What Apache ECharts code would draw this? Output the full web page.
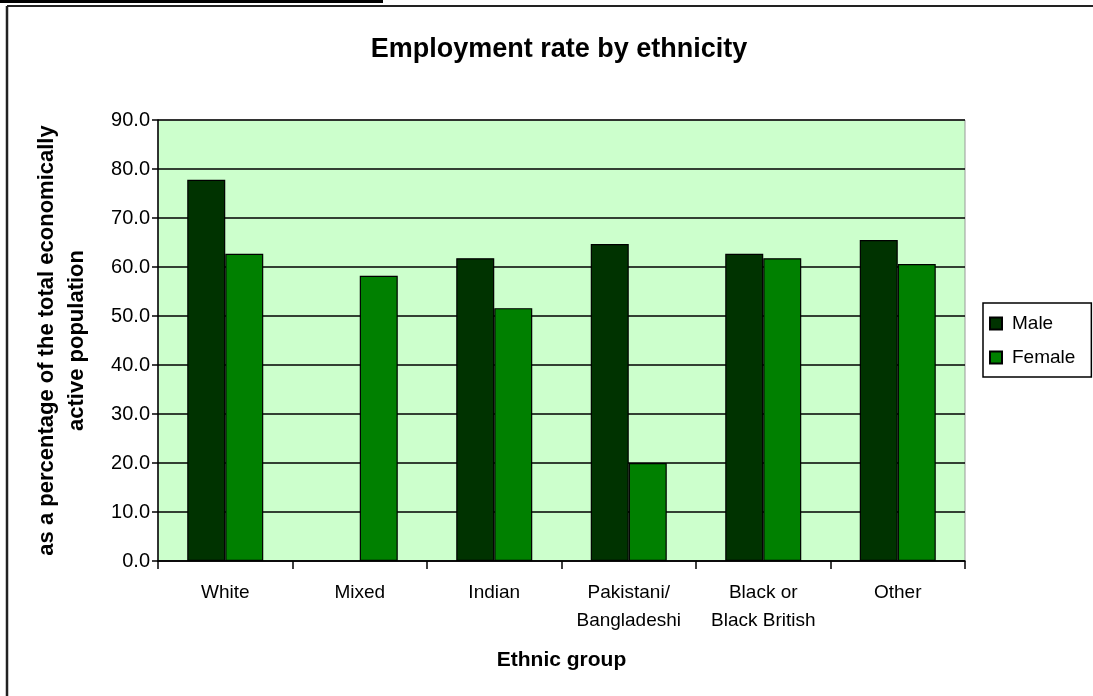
<!DOCTYPE html>
<html>
<head>
<meta charset="utf-8">
<style>
html,body{margin:0;padding:0;background:#fff;}
#chart{width:1093px;height:696px;}
</style>
<script src="https://cdn.jsdelivr.net/npm/echarts@6/dist/echarts.min.js"></script>
</head>
<body>
<div id="chart"></div>
<script>
const categories = ['White', 'Mixed', 'Indian', 'Pakistani/\nBangladeshi', 'Black or\nBlack British', 'Other'];
const maleValues = [77.8, null, 61.8, 64.7, 62.7, 65.5];
const femaleValues = [62.7, 58.2, 51.6, 20.0, 61.8, 60.6];
const seriesNames = ['Male', 'Female'];
const yTickMin = 0, yTickMax = 90, yTickStep = 10;

const font = '"Liberation Sans", Arial, sans-serif';
const chart = echarts.init(document.getElementById('chart'), null, {renderer: 'canvas'});
chart.setOption({
  backgroundColor: '#ffffff',
  animation: false,
  title: {
    text: 'Employment rate by ethnicity',
    left: 554, top: 31, textAlign: 'center',
    textStyle: {fontFamily: font, fontSize: 27, fontWeight: 'bold', color: '#000'}
  },
  legend: {
    orient: 'vertical',
    left: 983, top: 303,
    padding: [11, 16, 10, 6],
    itemGap: 15,
    itemWidth: 12, itemHeight: 12,
    borderColor: '#000', borderWidth: 1.5,
    icon: 'rect',
    textStyle: {fontFamily: font, fontSize: 19, color: '#000', padding: [0, 0, 0, 5]},
    data: seriesNames
  },
  grid: {left: 158, right: 128, top: 120, bottom: 135, show: true, backgroundColor: '#CCFFCC', borderColor: '#999', borderWidth: 1},
  xAxis: {
    type: 'category',
    data: categories,
    name: 'Ethnic group',
    nameLocation: 'middle',
    nameGap: 89,
    nameTextStyle: {fontFamily: font, fontSize: 21, fontWeight: 'bold', color: '#000'},
    axisLine: {lineStyle: {color: '#000', width: 1.5}},
    axisTick: {show: true, length: 8, inside: false, lineStyle: {color: '#000', width: 1.5}},
    axisLabel: {fontFamily: font, fontSize: 19, color: '#000', margin: 18, lineHeight: 28, interval: 0}
  },
  yAxis: {
    type: 'value',
    min: yTickMin, max: yTickMax, interval: yTickStep,
    name: 'as a percentage of the total economically\nactive population',
    nameLocation: 'middle',
    nameGap: 66,
    nameTextStyle: {fontFamily: font, fontSize: 22, fontWeight: 'bold', color: '#000', lineHeight: 30, align: 'center'},
    axisLine: {show: true, lineStyle: {color: '#000', width: 1.5}},
    axisTick: {show: true, length: 6, lineStyle: {color: '#000', width: 1.5}},
    axisLabel: {fontFamily: font, fontSize: 20, color: '#000', margin: 8, formatter: v => v.toFixed(1)},
    splitLine: {show: true, lineStyle: {color: '#000', width: 1.5}}
  },
  series: [
    {
      name: seriesNames[0], type: 'bar', data: maleValues,
      barWidth: 38, barGap: '0%',
      itemStyle: {color: '#003300', borderColor: '#000', borderWidth: 1.2}
    },
    {
      name: seriesNames[1], type: 'bar', data: femaleValues,
      barWidth: 38, barGap: '0%',
      itemStyle: {color: '#008000', borderColor: '#000', borderWidth: 1.2}
    }
  ],
  graphic: [
    {type: 'rect', shape: {x: 0, y: 0, width: 383, height: 3}, style: {fill: '#000'}},
    {type: 'line', shape: {x1: 7, y1: 6, x2: 1093, y2: 6}, style: {stroke: '#222', lineWidth: 2}},
    {type: 'line', shape: {x1: 7, y1: 6, x2: 7, y2: 696}, style: {stroke: '#222', lineWidth: 2.5}}
  ]
});
</script>
</body>
</html>
